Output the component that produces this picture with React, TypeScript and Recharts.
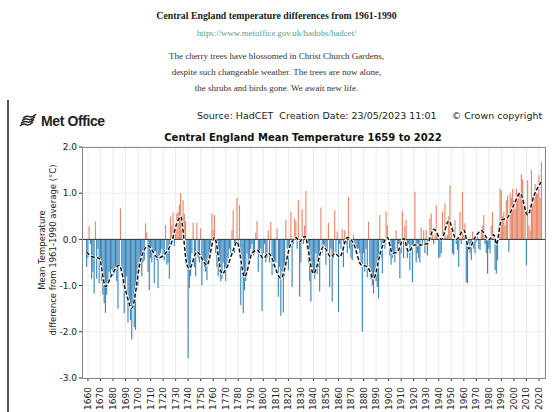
import React from "react";
import {
	Bar,
	CartesianGrid,
	Cell,
	ComposedChart,
	Line,
	ReferenceLine,
	XAxis,
	YAxis,
} from "recharts";

// HadCET annual anomalies (degC vs 1961-1990)
const firstYear = 1659;

const anom1659to1699 = [
	-0.6, -0.4, 0.29, -0.1, -0.85, -0.7, -1.17, 0.39, -0.85, -0.2, -0.95,
	-0.6, -0.9, -1.2, -1.38, -1.59, -1.2, -0.95, -0.7, -0.85, -0.65,
	-0.8, -0.75, -0.6, -0.9, -1.5, -0.55, 0.67, -0.6, -1.0, -1.6,
	-1.1, -0.8, -1.8, -1.3, -1.75, -2.16, -1.45, -1.9, -1.96, -1.1,
];
const anom1700to1749 = [
	-1.0, -0.7, -0.55, -0.8, -0.5, -0.45, 0.35, 0.15, -0.7, -1.1,
	-0.4, -0.5, -0.3, -0.95, -0.25, -0.45, -1.06, -0.35, -0.3, -0.2,
	-0.4, -0.45, 0.31, -0.55, -0.5, -0.85, 0.49, 0.3, 0.58, -0.15,
	0.2, 0.56, 0.6, 0.75, 1.0, 0.5, 0.85, 0.55, 0.4, -0.5,
	-2.58, -1.06, -0.8, -0.3, 0.36, -0.6, -0.8, 0.36, -0.4, -0.5,
];
const anom1750to1799 = [
	0.24, -0.99, -0.5, -0.6, -0.7, -0.88, -0.4, -0.3, -0.2, 0.56,
	0.2, 0.53, -0.3, -0.6, -0.8, -0.7, -0.9, -0.85, -0.5, -0.7,
	-0.9, -0.6, -0.4, -0.2, -0.3, 0.2, 0.63, -0.3, -0.1, 0.9,
	-0.2, 0.74, -1.42, -0.5, -1.6, -1.1, -0.9, -0.3, -0.6, -0.4,
	-0.2, -0.1, -0.35, -0.3, 0.15, 0.4, -0.7, -0.3, -0.2, -1.55,
];
const anom1800to1849 = [
	-0.3, -0.1, -0.5, -0.4, 0.2, -0.5, 0.38, -0.77, -0.6, -0.5,
	-0.5, 0.24, -1.24, -0.6, -1.65, -0.7, -1.58, -0.8, 0.42, -0.2,
	-0.66, -0.2, 0.6, -1.03, -0.1, 0.45, 0.4, -0.2, 0.85, -1.24,
	-0.5, 0.65, -0.1, 0.3, 1.05, -0.2, -0.5, -0.9, -1.35, -0.6,
	-0.7, -0.85, -0.3, -0.75, -0.6, -1.13, 0.69, -0.3, -0.1, -0.2,
];
const anom1850to1899 = [
	-0.55, -0.3, 0.36, -1.03, -0.2, -1.35, -0.4, 0.63, -0.3, 0.17,
	-1.57, -0.1, -0.2, 0.22, -0.6, 0.2, -0.1, -0.3, 0.92, -0.2,
	-0.4, -0.45, 0.1, -0.1, -0.3, -0.2, -0.2, -0.3, -0.5, -2.0,
	-0.3, -0.7, -0.2, -0.82, 0.38, -0.6, -0.85, -1.0, -1.17, -0.7,
	-0.9, -1.03, -1.28, 0.53, -0.4, -0.74, -0.1, -0.2, 0.61, 0.3,
];
const anom1900to1949 = [
	-0.1, -0.35, -0.55, -0.4, -0.3, -0.5, 0.2, -0.3, -0.1, -0.84,
	-0.3, 0.61, -0.4, 0.3, 0.43, -0.4, -0.1, -0.66, -0.2, -0.92,
	-0.1, 1.03, -0.5, -0.3, -0.4, -0.5, 0.26, -0.1, 0.2, -0.3,
	0.2, -0.35, 0.05, 0.45, 0.56, 0.2, -0.1, 0.1, 0.74, 0.1,
	-0.41, -0.38, -0.3, 0.6, 0.2, 0.78, 0.05, 0.1, 0.5, 1.17,
];
const anom1950to1999 = [
	0.2, -0.3, -0.34, 0.42, -0.1, -0.23, -0.6, 0.6, -0.1, 1.03,
	0.1, 0.35, -0.93, -0.95, -0.1, -0.3, -0.45, 0.17, -0.2, -0.3,
	-0.05, 0.1, -0.2, -0.23, 0.17, 0.3, 0.53, -0.1, -0.3, -0.74,
	-0.2, -0.3, 0.3, 0.6, 0.1, -0.66, -0.74, -0.45, 0.3, 1.1,
	1.05, 0.5, 0.6, 0.3, 0.85, 0.95, -0.27, 1.0, 0.9, 1.09,
];
const anom2000to2022 = [
	0.85, 0.65, 1.1, 1.0, 1.0, 0.95, 1.41, 1.3, 0.7, 0.6,
	-0.56, 1.28, 0.3, 0.2, 1.5, 0.9, 0.95, 1.2, 1.1, 1.0,
	1.39, 0.9, 1.68,
];

// smoothed curve, read at its turning points
const smoothYears = [
	1659, 1663, 1669, 1674, 1679, 1685, 1690, 1695, 1702, 1708, 1716, 1726,
	1731, 1734, 1739, 1741, 1747, 1755, 1761, 1767, 1771, 1776, 1779, 1785,
	1791, 1795, 1800, 1804, 1814, 1822, 1826, 1829, 1833, 1840, 1848, 1854,
	1857, 1861, 1867, 1872, 1878, 1883, 1888, 1894, 1899, 1903, 1907, 1912,
	1916, 1920, 1926, 1931, 1936, 1942, 1948, 1954, 1960, 1964, 1969, 1974,
	1980, 1984, 1986, 1990, 1994, 2000, 2005, 2011, 2016, 2022,
];
const smoothValues = [
	-0.27, -0.37, -0.41, -1.02, -0.77, -0.56, -1.1, -1.49, -0.45, -0.14, -0.4, -0.12,
	0.35, 0.49, -0.55, -0.63, -0.27, -0.56, 0.04, -0.74, -0.6, -0.23, -0.05, -0.81,
	-0.3, -0.23, -0.41, -0.3, -0.84, -0.09, 0.04, -0.05, 0.07, -0.74, -0.16, -0.38,
	-0.3, -0.38, 0.04, -0.09, -0.55, -0.59, -0.84, -0.23, 0.04, -0.3, -0.27, 0.02,
	-0.27, -0.12, -0.12, -0.09, 0.22, 0.0, 0.4, 0.0, 0.2, -0.2, 0.04, 0.19,
	-0.01, 0.1, -0.1, 0.42, 0.45, 0.75, 1.0, 0.53, 0.95, 1.25,
];

const yearTicks = [
	1660, 1670, 1680, 1690, 1700, 1710, 1720, 1730, 1740, 1750, 1760, 1770,
	1780, 1790, 1800, 1810, 1820, 1830, 1840, 1850, 1860, 1870, 1880, 1890,
	1900, 1910, 1920, 1930, 1940, 1950, 1960, 1970, 1980, 1990, 2000, 2010,
	2020,
];
const tempTicks = [-3, -2, -1, 0, 1, 2];

const WARM = "#e8866a";
const COLD = "#3a87bc";

const anomalies = [
	...anom1659to1699,
	...anom1700to1749,
	...anom1750to1799,
	...anom1800to1849,
	...anom1850to1899,
	...anom1900to1949,
	...anom1950to1999,
	...anom2000to2022,
];

const rows = anomalies.map((v, i) => {
	const year = firstYear + i;
	const k = smoothYears.indexOf(year);
	return { year, anom: v, smooth: k >= 0 ? smoothValues[k] : null };
});

const sans = "'DejaVu Sans', sans-serif";
const serif = "'Liberation Serif', serif";

const YearTick = ({ x, y, payload }: any) => (
	<text
		x={x}
		y={y + 4}
		transform={`rotate(-90, ${x}, ${y + 4})`}
		textAnchor="end"
		dominantBaseline="central"
		fontSize={9}
		fontFamily={sans}
		fill="#222"
	>
		{payload.value}
	</text>
);

// rough stand-in for the Met Office wave mark
const MetLogo = () => (
	<svg width={20} height={14} viewBox="0 0 20 14">
		{[0, 1, 2, 3].map((k) => (
			<path
				key={k}
				d={`M${1 + k} ${12 - k * 2.6} q3 -3 6 -1.5 t7 -2.5`}
				stroke="#222"
				strokeWidth={1.5}
				fill="none"
			/>
		))}
	</svg>
);

export default function App() {
	return (
		<div
			style={{
				position: "absolute",
				left: 0,
				top: 0,
				width: 553,
				height: 412,
				background: "#fff",
				overflow: "hidden",
			}}
		>
			<div style={{ position: "absolute", left: 0, top: 0 }}>
				<ComposedChart
					width={553}
					height={412}
					data={rows}
					margin={{ top: 147, right: 8, bottom: 0, left: 40 }}
				>
					<CartesianGrid stroke="#ececec" strokeWidth={1} />
					<XAxis
						dataKey="year"
						type="number"
						domain={[1655.25, 2024.8]}
						ticks={yearTicks}
						interval={0}
						height={34}
						axisLine={false}
						tickLine={{ stroke: "#333" }}
						tickSize={3}
						tick={<YearTick />}
					/>
					<YAxis
						type="number"
						domain={[-3, 2]}
						ticks={tempTicks}
						width={42}
						axisLine={false}
						tickLine={{ stroke: "#333" }}
						tickSize={3}
						tickFormatter={(v: number) => v.toFixed(1)}
						tick={{ fontSize: 9, fill: "#222", fontFamily: sans }}
					/>
					<Bar dataKey="anom" barSize={1.3} isAnimationActive={false}>
						{rows.map((r) => (
							<Cell key={r.year} fill={r.anom >= 0 ? WARM : COLD} />
						))}
					</Bar>
					<ReferenceLine y={0} stroke="#333" strokeWidth={1} />
					<Line
						dataKey="smooth"
						type="monotone"
						connectNulls
						dot={false}
						stroke="#fff"
						strokeWidth={2.5}
						isAnimationActive={false}
					/>
					<Line
						dataKey="smooth"
						type="monotone"
						connectNulls
						dot={false}
						stroke="#111"
						strokeWidth={1.5}
						strokeDasharray="4 2"
						isAnimationActive={false}
					/>
				</ComposedChart>
			</div>

			{/* plot frame */}
			<div
				style={{
					position: "absolute",
					left: 82,
					top: 147,
					width: 464,
					height: 232,
					border: "1px solid #888",
					boxSizing: "border-box",
					pointerEvents: "none",
				}}
			/>

			{/* page header */}
			<div
				style={{
					position: "absolute",
					left: 0,
					top: 9,
					width: 553,
					textAlign: "center",
					fontFamily: serif,
					color: "#222",
				}}
			>
				<div style={{ fontSize: 9.8, fontWeight: "bold", lineHeight: "14px" }}>
					Central England temperature differences from 1961-1990
				</div>
				<div style={{ fontSize: 8.8, color: "#4e9f97", lineHeight: "14px", marginTop: 3 }}>
					https://www.metoffice.gov.uk/hadobs/hadcet/
				</div>
				<div style={{ fontSize: 9, color: "#333", lineHeight: "16px", marginTop: 8 }}>
					The cherry trees have blossomed in Christ Church Gardens,
					<br />
					despite such changeable weather. The trees are now alone,
					<br />
					the shrubs and birds gone. We await new life.
				</div>
			</div>

			{/* left edge of embedded image */}
			<div
				style={{
					position: "absolute",
					left: 7,
					top: 100,
					width: 2,
					height: 312,
					background: "#555",
				}}
			/>

			{/* Met Office logo */}
			<div
				style={{
					position: "absolute",
					left: 19,
					top: 113,
					display: "flex",
					alignItems: "center",
					gap: 2,
				}}
			>
				<MetLogo />
				<span
					style={{
						fontFamily: "'Liberation Sans', sans-serif",
						fontWeight: "bold",
						fontSize: 14,
						letterSpacing: -0.4,
						color: "#222",
					}}
				>
					Met Office
				</span>
			</div>

			<div
				style={{
					position: "absolute",
					left: 197,
					top: 110,
					fontFamily: sans,
					fontSize: 9.5,
					color: "#222",
					whiteSpace: "pre",
				}}
			>
				{"Source: HadCET  Creation Date: 23/05/2023 11:01     \u00a9 Crown copyright"}
			</div>

			<div
				style={{
					position: "absolute",
					left: 82,
					width: 442,
					top: 132,
					textAlign: "center",
					fontFamily: sans,
					fontWeight: "bold",
					fontSize: 10,
					color: "#111",
				}}
			>
				Central England Mean Temperature 1659 to 2022
			</div>

			{/* y axis label */}
			<div
				style={{
					position: "absolute",
					left: 48,
					top: 250,
					transform: "translate(-50%, -50%) rotate(-90deg)",
					fontFamily: sans,
					fontSize: 8.5,
					color: "#222",
					textAlign: "center",
					whiteSpace: "nowrap",
					lineHeight: "11px",
				}}
			>
				Mean Temperature
				<br />
				difference from 1961-1990 average (°C)
			</div>
		</div>
	);
}
